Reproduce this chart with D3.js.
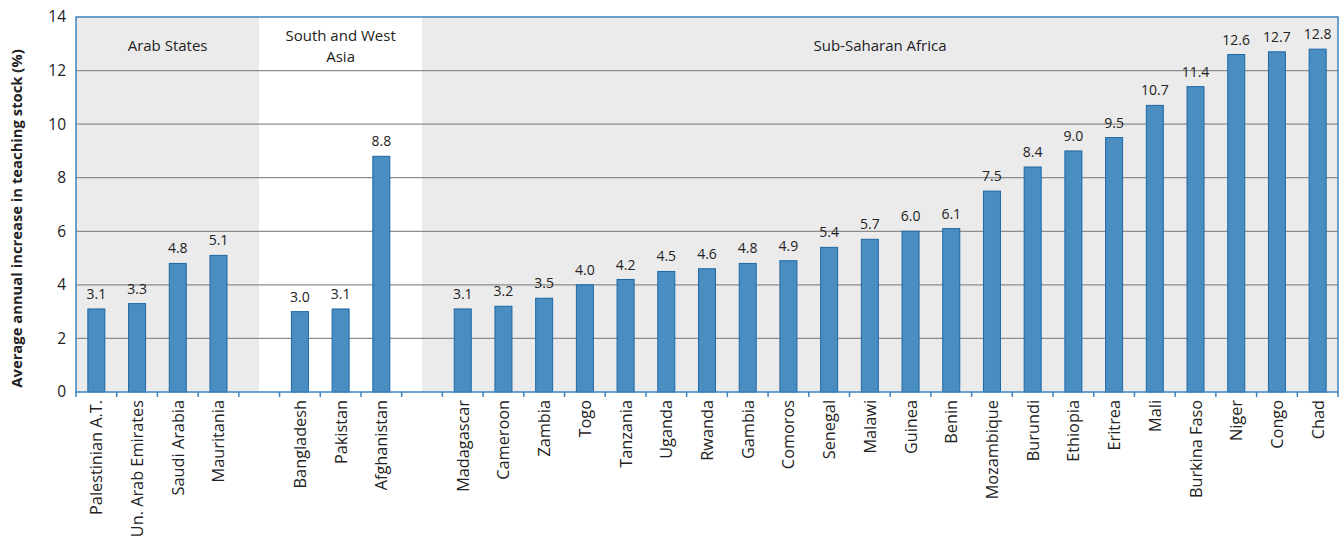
<!DOCTYPE html>
<html>
<head>
<meta charset="utf-8">
<script src="https://cdn.jsdelivr.net/npm/d3@7"></script>
<style>
	body { margin: 0; background: #fff; }
	text { font-family: "Open Sans", "Noto Sans", sans-serif; fill: #222; }
</style>
</head>
<body>
<div id="chart"></div>
<script>
// data
const arabCountries = ["Palestinian A.T.", "Un. Arab Emirates", "Saudi Arabia", "Mauritania"],
	arabValues = [3.1, 3.3, 4.8, 5.1];
const asiaCountries = ["Bangladesh", "Pakistan", "Afghanistan"],
	asiaValues = [3.0, 3.1, 8.8];
const africaCountries = ["Madagascar", "Cameroon", "Zambia", "Togo", "Tanzania", "Uganda", "Rwanda",
	"Gambia", "Comoros", "Senegal", "Malawi", "Guinea", "Benin", "Mozambique", "Burundi", "Ethiopia",
	"Eritrea", "Mali", "Burkina Faso", "Niger", "Congo", "Chad"],
	africaValues = [3.1, 3.2, 3.5, 4.0, 4.2, 4.5, 4.6, 4.8, 4.9, 5.4, 5.7, 6.0, 6.1, 7.5, 8.4, 9.0,
		9.5, 10.7, 11.4, 12.6, 12.7, 12.8];
const regionNames = [["Arab States"], ["South and West", "Asia"], ["Sub-Saharan Africa"]];
const yTicks = [0, 2, 4, 6, 8, 10, 12, 14];

// build the slot list: countries with an empty slot between regions
const groups = [
	{countries: arabCountries, values: arabValues},
	{countries: asiaCountries, values: asiaValues},
	{countries: africaCountries, values: africaValues}
];
let slots = [], bars = [];
groups.forEach((g, gi) => {
	if (gi > 0) slots.push("gap" + gi);
	g.countries.forEach((c, i) => {
		slots.push(c);
		bars.push({name: c, value: g.values[i], group: gi});
	});
});

const margin = {top: 17, right: 3, bottom: 150, left: 76},
	width = 1341 - margin.left - margin.right,
	height = 542 - margin.top - margin.bottom;

const x = d3.scaleBand().domain(slots).range([0, width]);
const y = d3.scaleLinear().domain([0, 14]).range([height, 0]);

const svg = d3.select("#chart").append("svg")
	.attr("width", 1341)
	.attr("height", 542);
const chart = svg.append("g")
	.attr("transform", "translate(" + margin.left + "," + margin.top + ")");

// region backgrounds: boundaries at middle of gap slots
const bw = x.step();
const regionEdges = [0, x("gap1") + bw / 2, x("gap2") + bw / 2, width];
const regionFill = ["#ebebeb", "#ffffff", "#ebebeb"];
regionNames.forEach((r, i) => {
	chart.append("rect")
		.attr("x", regionEdges[i])
		.attr("y", 0)
		.attr("width", regionEdges[i + 1] - regionEdges[i])
		.attr("height", height)
		.attr("fill", regionFill[i]);
	const t = chart.append("text")
		.attr("x", (regionEdges[i] + regionEdges[i + 1]) / 2)
		.attr("y", r.length > 1 ? 24 : 34)
		.attr("text-anchor", "middle")
		.style("font-size", "15px");
	r.forEach((line, li) => {
		t.append("tspan")
			.attr("x", (regionEdges[i] + regionEdges[i + 1]) / 2)
			.attr("dy", li === 0 ? 0 : 20.5)
			.text(line);
	});
});

// gridlines
chart.selectAll(".grid")
	.data(yTicks.slice(1, -1))
	.enter().append("line")
	.attr("x1", 0).attr("x2", width)
	.attr("y1", d => y(d)).attr("y2", d => y(d))
	.attr("stroke", "#8c8c8c")
	.attr("stroke-width", 1.2);

// bars
const barW = 17;
chart.selectAll(".bar")
	.data(bars)
	.enter().append("rect")
	.attr("x", d => x(d.name) + bw / 2 - barW / 2)
	.attr("y", d => y(d.value))
	.attr("width", barW)
	.attr("height", d => height - y(d.value))
	.attr("fill", "#4a8dc1")
	.attr("stroke", "#1e67a6")
	.attr("stroke-width", 1);

chart.selectAll(".val")
	.data(bars)
	.enter().append("text")
	.attr("x", d => x(d.name) + bw / 2)
	.attr("y", d => y(d.value) - 10)
	.attr("text-anchor", "middle")
	.style("font-size", "14px")
	.text(d => d.value.toFixed(1));

// frame
chart.append("rect")
	.attr("x", 0).attr("y", 0)
	.attr("width", width).attr("height", height)
	.attr("fill", "none")
	.attr("stroke", "#3f84bf")
	.attr("stroke-width", 1.5);

// y axis
const yAxis = chart.append("g")
	.call(d3.axisLeft(y).tickValues(yTicks).tickSize(0).tickPadding(10));
yAxis.select(".domain").remove();
yAxis.selectAll("text").style("font-size", "15.5px").style("fill", "#222");

// x axis ticks at slot boundaries
const xAxisG = chart.append("g").attr("transform", "translate(0," + height + ")");
xAxisG.selectAll("line")
	.data(d3.range(slots.length + 1))
	.enter().append("line")
	.attr("x1", d => d * bw).attr("x2", d => d * bw)
	.attr("y1", 0).attr("y2", 5)
	.attr("stroke", "#3f84bf")
	.attr("stroke-width", 1.5);
xAxisG.selectAll("text")
	.data(bars)
	.enter().append("text")
	.attr("transform", d => "translate(" + (x(d.name) + bw / 2 + 6) + ",8) rotate(-90)")
	.attr("text-anchor", "end")
	.style("font-size", "16.3px")
	.text(d => d.name);

// y title
svg.append("text")
	.attr("transform", "translate(22," + (margin.top + height / 2 + 14) + ") rotate(-90)")
	.attr("text-anchor", "middle")
	.style("font-size", "14.8px")
	.style("font-weight", "bold")
	.text("Average annual increase in teaching stock (%)");
</script>
</body>
</html>
